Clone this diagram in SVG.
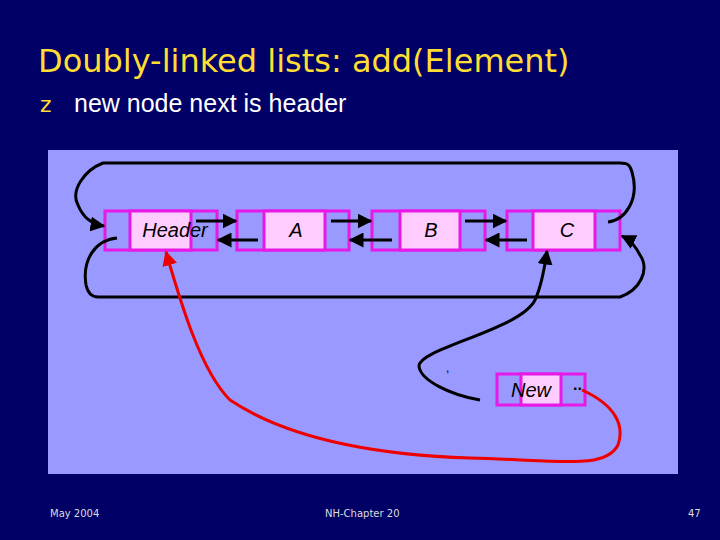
<svg xmlns="http://www.w3.org/2000/svg" width="720" height="540" viewBox="0 0 720 540">
<style>
.c{fill:#9999ff;stroke:#e619e6;stroke-width:3}
.d{fill:#ffccff;stroke:#e619e6;stroke-width:3}
.t{font-family:"Liberation Sans",Arial,sans-serif;font-size:20px;font-style:italic;text-anchor:middle}
.k{fill:none;stroke:#000;stroke-width:3}
.r{fill:none;stroke:#e00;stroke-width:3}
.f{font-family:"DejaVu Sans",sans-serif;font-size:10px;fill:#ddd}
</style>
<defs>
<marker id="a" viewBox="0 0 10 10" refX="9" refY="5" markerWidth="5" markerHeight="5" orient="auto"><path d="M0,0L10,5L0,10z"/></marker>
<marker id="ar" viewBox="0 0 10 10" refX="9" refY="5" markerWidth="5" markerHeight="5" orient="auto"><path d="M0,0L10,5L0,10z" fill="#e00"/></marker>
</defs>
<rect width="720" height="540" fill="#000066"/>
<text x="38" y="72" font-family="DejaVu Sans,sans-serif" font-size="32" fill="#ffdd33">Doubly-linked lists: add(Element)</text>
<text x="40" y="112" font-family="DejaVu Sans,sans-serif" font-size="22" fill="#ffdd33">z</text>
<text x="74" y="112" font-family="Liberation Sans,Arial,sans-serif" font-size="25" fill="#fff">new node next is header</text>
<rect x="48" y="150" width="630" height="324" fill="#9999ff"/>
<g id="header"><rect class="c" x="105" y="211" width="112" height="39"/><rect class="d" x="130" y="211" width="61" height="39"/><text class="t" x="175" y="237">Header</text></g>
<g id="nodeA"><rect class="c" x="237" y="211" width="112" height="39"/><rect class="d" x="264" y="211" width="61" height="39"/><text class="t" x="296" y="237">A</text></g>
<g id="nodeB"><rect class="c" x="372" y="211" width="113" height="39"/><rect class="d" x="400" y="211" width="60" height="39"/><text class="t" x="431" y="237">B</text></g>
<g id="nodeC"><rect class="c" x="507" y="211" width="113" height="39"/><rect class="d" x="533" y="211" width="62" height="39"/><text class="t" x="567" y="237">C</text></g>
<g id="nodeNew"><rect class="c" x="497" y="374" width="88" height="31"/><rect class="d" x="521" y="374" width="40" height="31"/><text class="t" x="531" y="397">New</text></g>
<g id="connectors">
<path class="k" d="M196,221H236" marker-end="url(#a)"/>
<path class="k" d="M258,240H218" marker-end="url(#a)"/>
<path class="k" d="M331,221H371" marker-end="url(#a)"/>
<path class="k" d="M392,240H350" marker-end="url(#a)"/>
<path class="k" d="M465,221H506" marker-end="url(#a)"/>
<path class="k" d="M527,240H486" marker-end="url(#a)"/>
<path class="k" d="M608,222C625,220 640,200 632,172C630,165 628,163 620,163H103C85,170 70,190 78,205C82,215 90,224 104,226" marker-end="url(#a)"/>
<path class="k" d="M117,238C95,240 82,260 86,285C88,294 92,297 98,297H620C640,290 650,270 640,255C635,245 630,240 622,236" marker-end="url(#a)"/>
<path class="k" d="M480,400C450,395 420,380 419,366C420,348 520,330 535,300C542,285 545,265 547,251" marker-end="url(#a)"/>
<text x="446" y="372" font-family="Liberation Sans,sans-serif" font-size="12">,</text>
<text x="573" y="390" font-family="Liberation Sans,sans-serif" font-size="16" font-weight="bold">..</text>
<path class="r" d="M582,390C615,405 625,425 618,445C605,470 560,460 470,458C380,455 290,440 230,400C200,370 180,300 166,252" marker-end="url(#ar)"/>
</g>
<text class="f" x="50" y="517">May 2004</text>
<text class="f" x="325" y="517">NH-Chapter 20</text>
<text class="f" x="688" y="517">47</text>
</svg>
